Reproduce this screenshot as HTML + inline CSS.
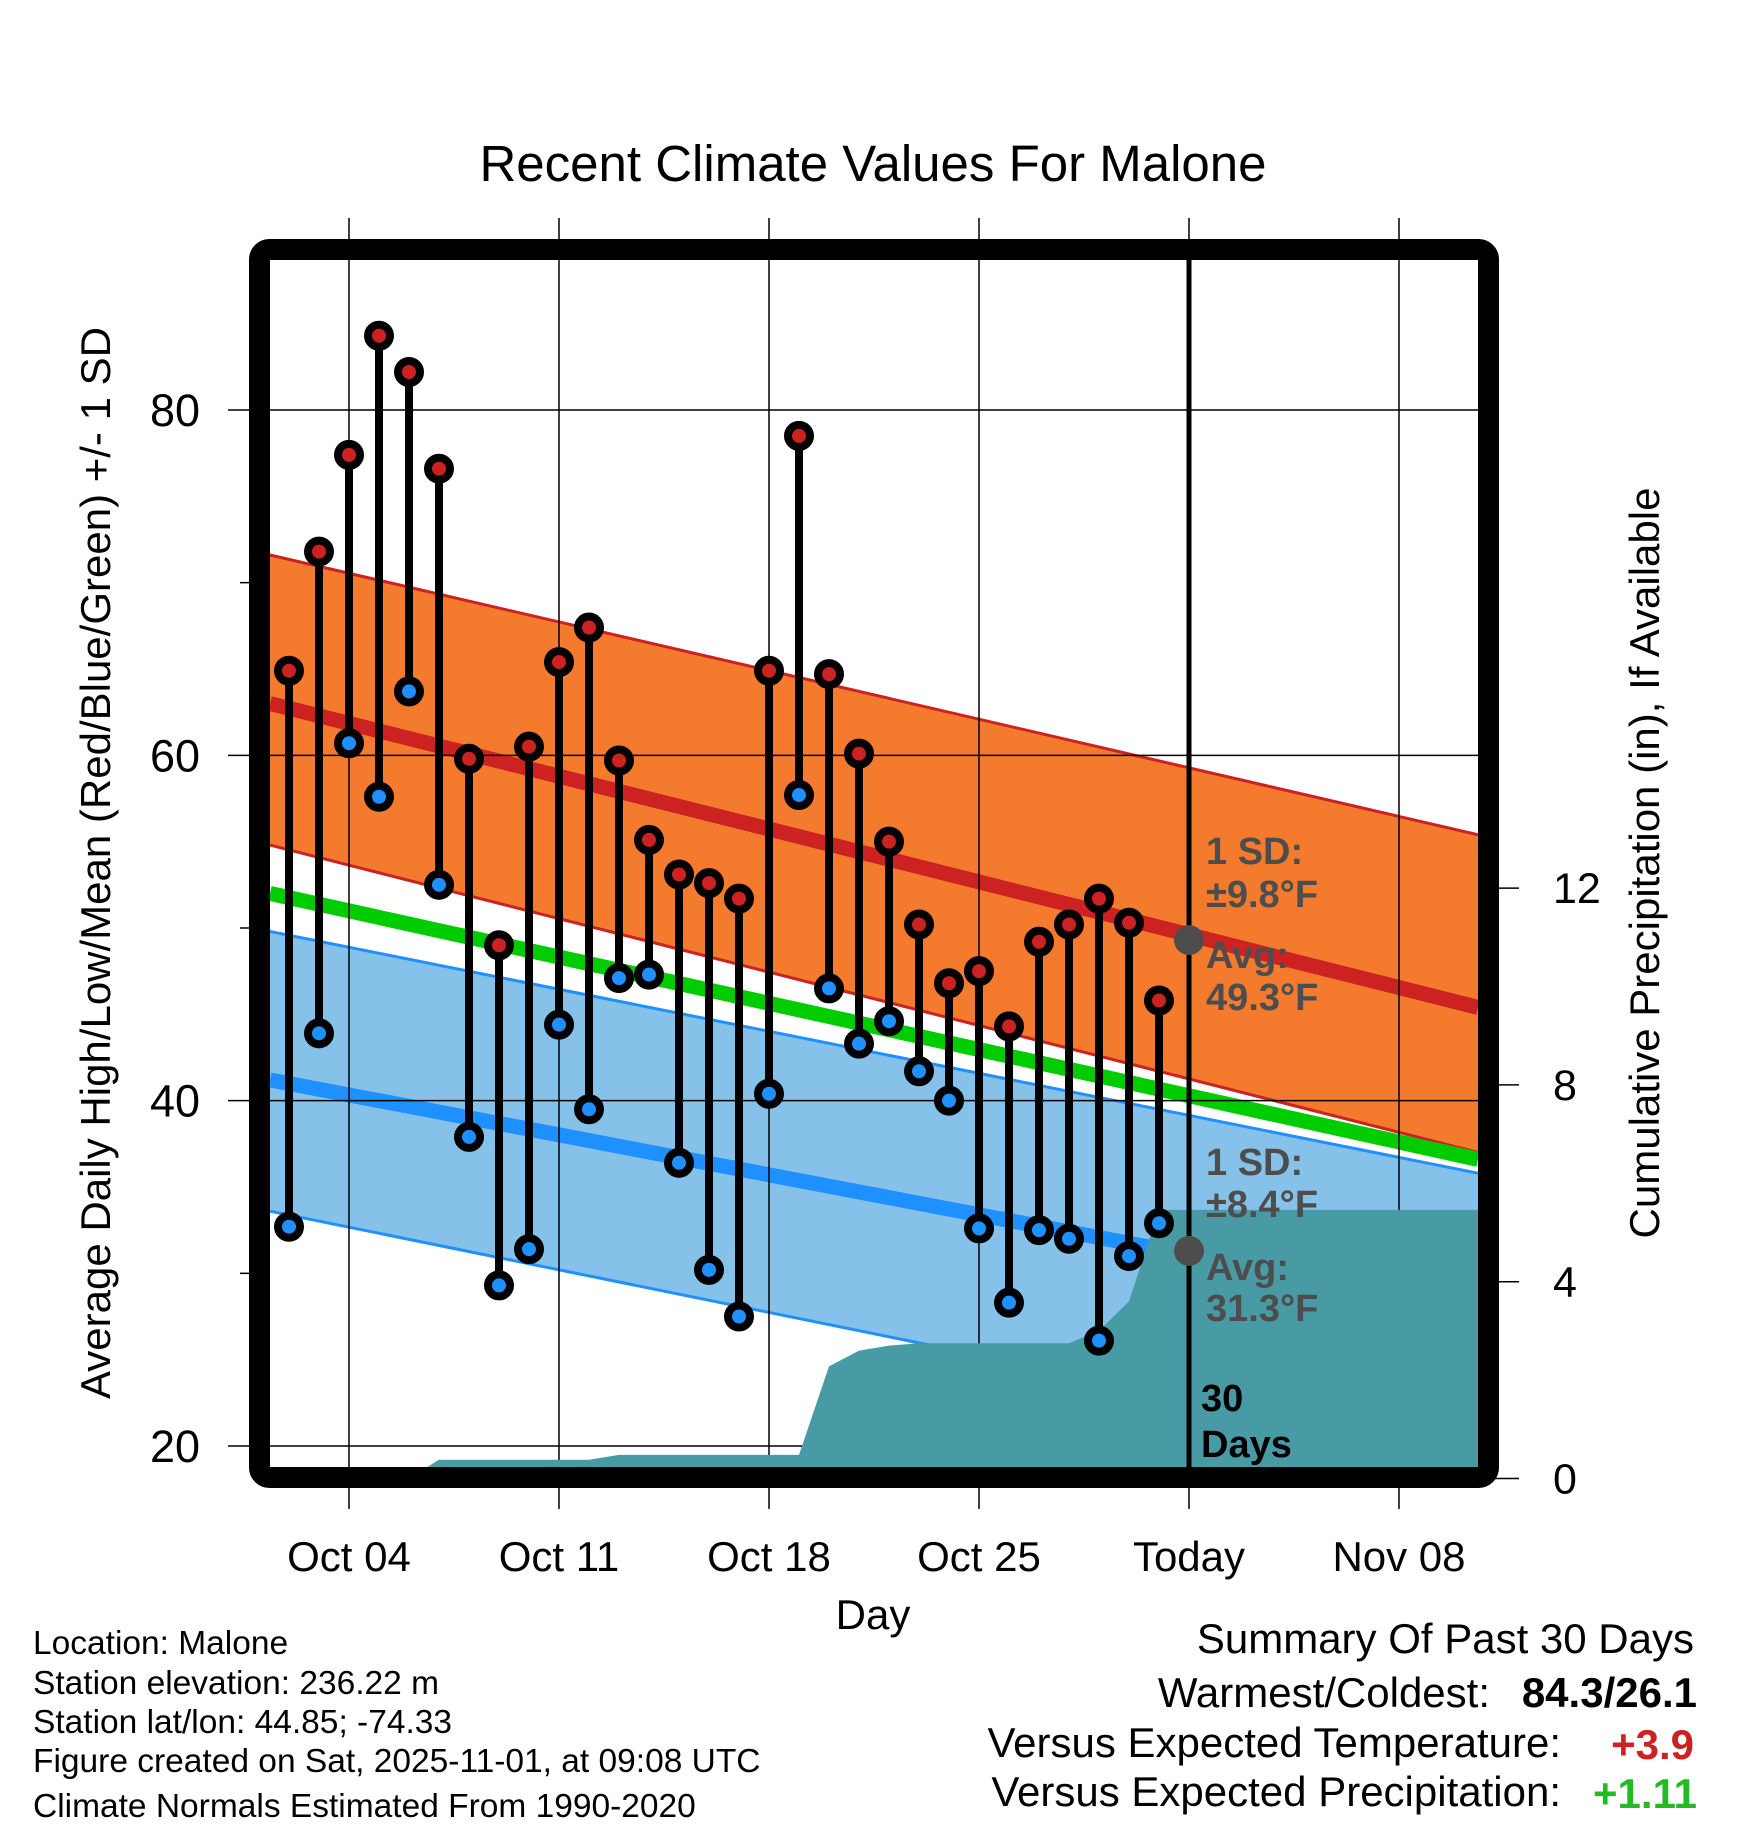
<!DOCTYPE html>
<html><head><meta charset="utf-8"><style>
html,body{margin:0;padding:0;background:#fff;}
svg{display:block;font-family:"Liberation Sans",Arial,sans-serif;}
</style></head><body>
<svg id="chart" width="1748" height="1828" viewBox="0 0 1748 1828" xmlns="http://www.w3.org/2000/svg">
<g id="bands"></g><g id="grid"></g><g id="precip"></g><g id="marks"></g><g id="frame"></g><g id="labels"></g>
</svg>
<script>
// ---- data ----
const dayLabels = ["Oct 04","Oct 11","Oct 18","Oct 25","Today","Nov 08"];
const dayLabelOffsets = [2,9,16,23,30,37]; // days after Oct 02
const highs = [64.9,71.8,77.4,84.3,82.2,76.6,59.8,49.0,60.5,65.4,67.4,59.7,55.1,53.1,52.6,51.7,64.9,78.5,64.7,60.1,55.0,50.2,46.8,47.5,44.3,49.2,50.2,51.7,50.3,45.8];
const lows  = [32.7,43.9,60.7,57.6,63.7,52.5,37.9,29.3,31.4,44.4,39.5,47.1,47.3,36.4,30.2,27.5,40.4,57.7,46.5,43.3,44.6,41.7,40.0,32.6,28.3,32.5,32.0,26.1,31.0,32.9];
const precipCum = [0,0,0,0,0,0.38,0.38,0.38,0.38,0.38,0.38,0.48,0.48,0.48,0.48,0.48,0.48,0.48,2.28,2.6,2.7,2.75,2.75,2.75,2.75,2.75,2.75,3.0,3.6,5.46];
// normals at left edge / right edge of plot
const normHighUpper = [71.6,55.4];
const normHighMean  = [63.0,45.4];
const normHighLower = [54.8,37.0];
const normMean      = [52.0,36.6];
const normLowUpper  = [49.8,35.8];
const normLowMean   = [41.2,27.9];
const normLowLower  = [33.6,19.4];
const tempTicks = [20,40,60,80];
const minorTicks = [30,50,70];
const precipTicks = [0,4,8,12];

// ---- scales ----
const L=270,R=1478,T=260,B=1467;
const X = d => 289 + d*30;
const Y = v => 1446 - (v-20)*17.267;
const YP = p => 1478.5 - p*49.2;
const NS="http://www.w3.org/2000/svg";
function mk(parent,tag,attrs){const e=document.createElementNS(NS,tag);for(const k in attrs)e.setAttribute(k,attrs[k]);document.getElementById(parent).appendChild(e);return e;}

function band(a,b,fill,name){
  const e=mk('bands','polygon',{points:`${L},${Y(a[0])} ${R},${Y(a[1])} ${R},${Y(b[1])} ${L},${Y(b[0])}`,fill:fill});
  
  
}
function nline(a,stroke,w,name){
  const e=mk('bands','line',{x1:L,y1:Y(a[0]),x2:R,y2:Y(a[1]),stroke:stroke,'stroke-width':w});
  
  
}
band(normLowUpper,normLowLower,'#85c1e8','low-sd-band');
band(normHighUpper,normHighLower,'#f47a2e','high-sd-band');
nline(normHighUpper,'#cc2222',3,'high-upper-edge');
nline(normHighLower,'#cc2222',3,'high-lower-edge');
nline(normLowUpper,'#1e90ff',3,'low-upper-edge');
nline(normLowLower,'#1e90ff',3,'low-lower-edge');
nline(normMean,'#00cc00',15,'normal-mean-line');
nline(normHighMean,'#cc2222',15,'normal-high-line');
nline(normLowMean,'#1e90ff',15,'normal-low-line');

dayLabelOffsets.forEach((d,i)=>{
  const g=mk('grid','line',{x1:X(d),y1:218,x2:X(d),y2:1509,stroke:'#000','stroke-width':1.5});
  
  
  const t=mk('labels','text',{x:X(d),y:1571,'font-size':42,'text-anchor':'middle',fill:'#000'});
  t.textContent=dayLabels[i];
  
  
});
tempTicks.forEach(v=>{
  const g=mk('grid','line',{x1:228,y1:Y(v),x2:R,y2:Y(v),stroke:'#000','stroke-width':1.5});
  
  
  const t=mk('labels','text',{x:200,y:Y(v)+16,'font-size':45,'text-anchor':'end',fill:'#000'});
  t.textContent=v;
  
  
});
minorTicks.forEach(v=>{
  const g=mk('grid','line',{x1:240,y1:Y(v),x2:252,y2:Y(v),stroke:'#000','stroke-width':1.5});
  
  
});
precipTicks.forEach(p=>{
  const g=mk('grid','line',{x1:1495,y1:YP(p),x2:1519,y2:YP(p),stroke:'#000','stroke-width':1.5});
  
  
  const t=mk('labels','text',{x:1553,y:YP(p)+15,'font-size':43,'text-anchor':'start',fill:'#000'});
  t.textContent=p;
  
  
});

let pts=`${L},${YP(0)} `;
precipCum.forEach((p,i)=>{pts+=`${X(i)},${YP(p)} `;});
pts+=`${R},${YP(precipCum[precipCum.length-1])} ${R},${YP(0)}`;
const pa=mk('precip','polygon',{points:pts,fill:'#489ba4'});



highs.forEach((h,i)=>{
  const s=mk('marks','line',{x1:X(i),y1:Y(h),x2:X(i),y2:Y(lows[i]),stroke:'#000','stroke-width':8});
  
  
});
highs.forEach((h,i)=>{
  const c=mk('marks','circle',{cx:X(i),cy:Y(h),r:11,fill:'#cc2222',stroke:'#000','stroke-width':8});
  
  
  const c2=mk('marks','circle',{cx:X(i),cy:Y(lows[i]),r:11,fill:'#1e90ff',stroke:'#000','stroke-width':8});
  
  
});
const tl=mk('marks','line',{x1:X(30),y1:T,x2:X(30),y2:B,stroke:'#000','stroke-width':5});


[49.3,31.3].forEach(v=>{
  const c=mk('marks','circle',{cx:X(30),cy:Y(v),r:15,fill:'#4d4d4d'});
  
  
});
const fr=mk('frame','rect',{x:259.5,y:249.5,width:1229,height:1228,rx:10,fill:'none',stroke:'#000','stroke-width':21});


</script>
<script>
(function(){
const NS="http://www.w3.org/2000/svg";
const g=document.getElementById('labels');
function txt(x,y,s,str,opt){const t=document.createElementNS(NS,'text');t.setAttribute('x',x);t.setAttribute('y',y);t.setAttribute('font-size',s);
 for(const k in (opt||{}))t.setAttribute(k,opt[k]);t.textContent=str;g.appendChild(t);return t;}
let t;
t=txt(873,181,51,'Recent Climate Values For Malone',{'text-anchor':'middle'});


t=txt(873,1629,42,'Day',{'text-anchor':'middle'});


t=txt(0,0,42,'Average Daily High/Low/Mean (Red/Blue/Green) +/- 1 SD',{'text-anchor':'middle',transform:'translate(110,863) rotate(-90)'});


t=txt(0,0,42,'Cumulative Precipitation (in), If Available',{'text-anchor':'middle',transform:'translate(1659,863) rotate(-90)'});


const ann=[[850,'1 SD:'],[893,'±9.8°F'],[954,'Avg:'],[996,'49.3°F'],[1161,'1 SD:'],[1203,'±8.4°F'],[1266,'Avg:'],[1307,'31.3°F']];
ann.forEach(a=>{const e=txt(1206,a[0]+14,38,a[1],{'font-weight':'bold',fill:'#4d4d4d'});
 
 });
t=txt(1201,1411,38,'30',{'font-weight':'bold'});


t=txt(1201,1457,38,'Days',{'font-weight':'bold'});


const info=[[1654,'Location: Malone'],[1694,'Station elevation: 236.22 m'],[1733,'Station lat/lon: 44.85; -74.33'],[1772,'Figure created on Sat, 2025-11-01, at 09:08 UTC'],[1817,'Climate Normals Estimated From 1990-2020']];
info.forEach(a=>{const e=txt(33,a[0],33.5,a[1]);
 
 });
t=txt(1694,1653,42,'Summary Of Past 30 Days',{'text-anchor':'end'});


t=txt(1490,1707,42,'Warmest/Coldest:',{'text-anchor':'end'});


t=txt(1697,1707,42,'84.3/26.1',{'text-anchor':'end','font-weight':'bold'});


t=txt(1561,1757,42,'Versus Expected Temperature:',{'text-anchor':'end'});


t=txt(1694,1759,42,'+3.9',{'text-anchor':'end','font-weight':'bold',fill:'#cc2222'});


t=txt(1561,1806,42,'Versus Expected Precipitation:',{'text-anchor':'end'});


t=txt(1697,1808,42,'+1.11',{'text-anchor':'end','font-weight':'bold',fill:'#22bb22'});


})();
</script>
</body></html>
